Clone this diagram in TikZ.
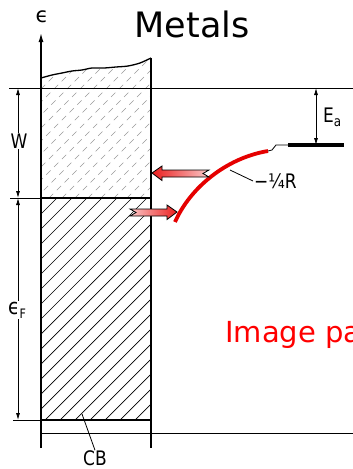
\documentclass[tikz,border=0pt]{standalone}
\usepackage{fontspec}
\setmainfont{DejaVu Sans}
\newfontfamily\labelfont[FakeStretch=0.85]{DejaVu Sans}
\usetikzlibrary{arrows.meta,positioning,calc}
\definecolor{arrowred}{RGB}{235,30,30}
\definecolor{arrowpink}{RGB}{250,200,200}

\begin{document}
\begin{tikzpicture}[
    x=1pt, y=-1pt,
    every node/.style={inner sep=1pt},
    lbl/.style={font=\labelfont\fontsize{20}{20}\selectfont},
    thinline/.style={line width=0.8pt},
    boxline/.style={line width=1.3pt},
    dimarrow/.style={thinline, {Latex[length=7pt,width=4pt]}-{Latex[length=7pt,width=4pt]}},
    hatch/.style={line width=0.7pt},
    redcurve/.style={line width=3.8pt, red!90!black},
    bigarrow/.style={draw=black, line width=0.8pt}
]
\useasboundingbox (0,0) rectangle (353,469);

% ---- title ----
\node (title) at (192,24) {\fontsize{35}{35}\selectfont Metals};

% ---- hatching of the band ----
\begin{scope}
  \clip plot[smooth] coordinates {(41,78) (52,75) (62,73) (72,71) (82,70) (92,68)
        (104,68) (116,67) (128,66) (140,63) (151,58)} -- (151,198) -- (41,198) -- cycle;
  \foreach \i in {-120,-107,...,160}
    \draw[hatch, gray!80, dash pattern=on 6pt off 5pt] (\i,198) -- ++(150,-150);
\end{scope}
\begin{scope}
  \clip (41,198) rectangle (151,420);
  \foreach \i in {-180,-165,...,160}
    \draw[hatch] (\i,420) -- ++(240,-240);
\end{scope}

% ---- box and axis ----
\draw[boxline] plot[smooth] coordinates {(41,78) (52,75) (62,73) (72,71) (82,70) (92,68)
        (104,68) (116,67) (128,66) (140,63) (151,58)};
\draw[boxline, -{Latex[length=9pt,width=5pt]}] (41,448) -- (41,33);
\draw[boxline] (151,58) -- (151,448);
\node[font=\fontsize{21}{21}\selectfont] (eps) at (42,17) {ϵ};

% ---- levels ----
\draw[thinline] (9,88) -- (353,88);
\draw[thinline] (10,198) -- (41,198);
\draw[boxline] (41,198) -- (151,198);
\draw[thinline] (13,420) -- (41,420);
\draw[boxline] (41,420) -- (151,420);
\draw[thinline] (41,433) -- (353,433);

% ---- dimensions ----
\draw[dimarrow] (18,88) -- (18,198);
\node[lbl, fill=white] (W) at (19,141) {W};
\draw[dimarrow] (18,198) -- (18,420);
\node[lbl, fill=white] (EF) at (17,310) {\fontsize{22}{22}\selectfont ϵ\raisebox{-4pt}{\fontsize{13}{13}\selectfont F}};
\draw[dimarrow] (316,88) -- (316,145);
\node[lbl, anchor=west] (Ea) at (322,117) {E\raisebox{-4pt}{\fontsize{14}{14}\selectfont a}};

% ---- image potential and adsorbate level ----
\coordinate (curvestart) at (175,222);
\coordinate (curveend) at (268,151);
\draw[redcurve] (curvestart) .. controls (190,188) and (226,158) .. (curveend);
\draw[thinline] (curveend) -- (272,150) -- (276,145) -- (288,145);
\draw[line width=4pt] (288,145) -- (344,145);
\node[lbl, anchor=west] (R) at (253,181) {−¼R};
\coordinate (Rfoot) at (230,170);
\draw[thinline] (Rfoot) -- (R.west);

% ---- charge transfer arrows ----
\shade[bigarrow, left color=arrowred, right color=arrowpink]
  (152,173) -- (162,166) -- (162,170) -- (209,170) -- (203,173.5)
  -- (209,177) -- (162,177) -- (162,180.5) -- cycle;
\shade[bigarrow, left color=arrowpink, right color=arrowred]
  (177,212) -- (167,205) -- (167,209) -- (130,209) -- (136,212.5)
  -- (130,216) -- (167,216) -- (167,219.5) -- cycle;

% ---- labels below ----
\node[lbl, inner sep=0pt] (CB) at (95,458) {CB};
\coordinate (CBfoot) at (82,414);
\draw[thinline] (CBfoot) -- (CB.north);

\node[anchor=west, text=red, font=\fontsize{29}{29}\selectfont] (note) at (224,335) {Image pa};
\end{tikzpicture}
\end{document}
